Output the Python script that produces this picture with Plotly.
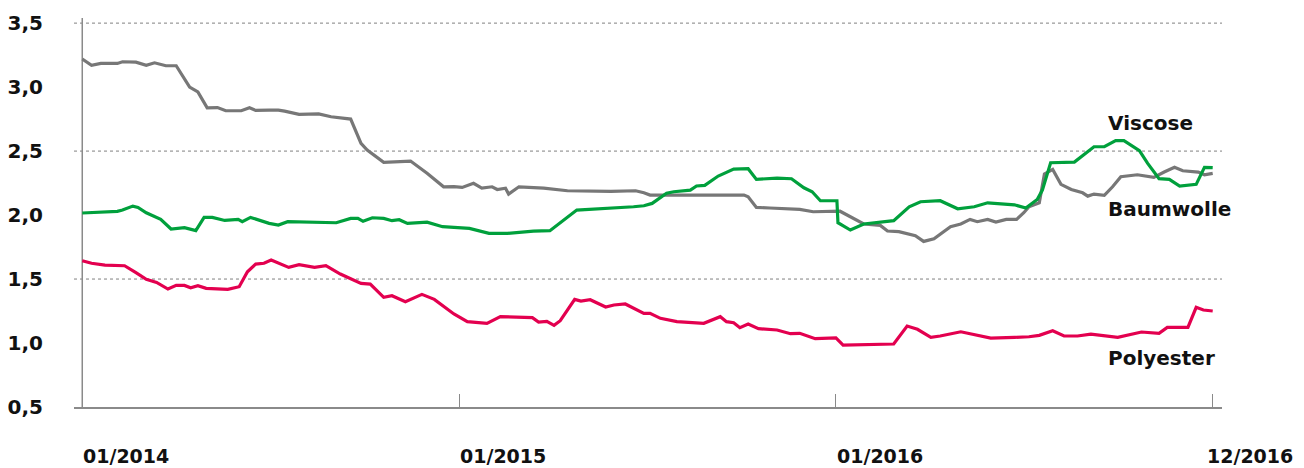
import plotly.graph_objects as go

# ---------------- data ----------------
baum_dates = ["2014-01-01","2014-01-10","2014-01-19","2014-02-04","2014-02-09","2014-02-22","2014-03-04",
              "2014-03-12","2014-03-23","2014-04-02","2014-04-15","2014-04-23","2014-05-02","2014-05-12",
              "2014-05-20","2014-06-04","2014-06-12","2014-06-18","2014-07-01","2014-07-10","2014-07-16",
              "2014-07-30","2014-08-18","2014-08-30","2014-09-18","2014-09-28","2014-10-04","2014-10-20",
              "2014-11-15","2014-12-01","2014-12-17","2014-12-27","2015-01-04","2015-01-15","2015-01-23",
              "2015-02-02","2015-02-07","2015-02-15","2015-02-18","2015-02-28","2015-03-24","2015-04-16",
              "2015-05-28","2015-06-21","2015-06-29","2015-07-05","2015-07-18","2015-10-04","2015-10-08",
              "2015-10-16","2015-10-29","2015-11-27","2015-12-10","2016-01-05","2016-01-28","2016-02-13",
              "2016-02-20","2016-03-02","2016-03-18","2016-03-26","2016-04-05","2016-04-21","2016-05-01",
              "2016-05-10","2016-05-17","2016-05-27","2016-06-04","2016-06-14","2016-06-24","2016-07-01",
              "2016-07-06","2016-07-16","2016-07-21","2016-07-29","2016-08-06","2016-08-16","2016-08-27",
              "2016-09-01","2016-09-07","2016-09-17","2016-09-25","2016-10-03","2016-10-19","2016-11-04",
              "2016-11-14","2016-11-24","2016-12-02","2016-12-17","2016-12-23","2016-12-31"]
baum_values = [3.22,3.17,3.185,3.185,3.198,3.195,3.17,
               3.19,3.167,3.167,3.00,2.963,2.838,2.84,
               2.815,2.815,2.838,2.818,2.82,2.82,2.812,
               2.787,2.79,2.768,2.75,2.56,2.508,2.412,
               2.422,2.326,2.221,2.222,2.216,2.248,2.211,
               2.221,2.20,2.21,2.164,2.221,2.211,2.19,
               2.185,2.19,2.174,2.156,2.156,2.156,2.143,
               2.06,2.055,2.044,2.026,2.03,1.93,1.919,
               1.875,1.87,1.838,1.794,1.815,1.909,1.93,
               1.966,1.948,1.966,1.945,1.966,1.966,2.018,
               2.065,2.096,2.32,2.357,2.24,2.20,2.174,
               2.148,2.164,2.154,2.221,2.30,2.315,2.294,
               2.336,2.373,2.346,2.336,2.315,2.326]

visc_dates = ["2014-01-01","2014-02-04","2014-02-09","2014-02-19","2014-02-24","2014-03-04","2014-03-18",
              "2014-03-28","2014-04-10","2014-04-21","2014-04-29","2014-05-07","2014-05-19","2014-06-01",
              "2014-06-05","2014-06-13","2014-07-01","2014-07-10","2014-07-19","2014-09-04","2014-09-18",
              "2014-09-25","2014-09-30","2014-10-09","2014-10-20","2014-10-28","2014-11-04","2014-11-12",
              "2014-12-01","2014-12-16","2014-12-27","2015-01-11","2015-01-30","2015-02-17","2015-03-14",
              "2015-03-30","2015-04-25","2015-05-28","2015-06-19","2015-06-29","2015-07-07","2015-07-21",
              "2015-07-28","2015-08-13","2015-08-19","2015-08-27","2015-09-09","2015-09-24","2015-10-08",
              "2015-10-16","2015-11-05","2015-11-19","2015-12-01","2015-12-09","2015-12-17","2016-01-02",
              "2016-01-03","2016-01-15","2016-01-28","2016-02-26","2016-03-12","2016-03-23","2016-04-11",
              "2016-04-28","2016-05-14","2016-05-27","2016-06-22","2016-07-03","2016-07-14","2016-07-19",
              "2016-07-27","2016-08-19","2016-09-07","2016-09-17","2016-09-28","2016-10-06","2016-10-21",
              "2016-10-29","2016-11-09","2016-11-19","2016-11-29","2016-12-15","2016-12-23","2016-12-31"]
visc_values = [2.016,2.029,2.039,2.07,2.06,2.018,1.966,
               1.891,1.901,1.878,1.982,1.982,1.958,1.966,
               1.948,1.982,1.935,1.922,1.948,1.94,1.974,
               1.974,1.951,1.979,1.974,1.956,1.964,1.935,
               1.945,1.909,1.904,1.896,1.857,1.857,1.875,
               1.878,2.039,2.052,2.065,2.073,2.091,2.17,
               2.182,2.195,2.227,2.232,2.305,2.359,2.362,
               2.279,2.289,2.284,2.213,2.182,2.112,2.112,
               1.94,1.883,1.93,1.956,2.065,2.104,2.112,
               2.049,2.065,2.096,2.08,2.055,2.122,2.195,
               2.409,2.414,2.534,2.534,2.581,2.581,2.503,
               2.404,2.284,2.279,2.227,2.24,2.373,2.37]

poly_dates = ["2014-01-01","2014-01-10","2014-01-23","2014-02-11","2014-02-22","2014-03-04","2014-03-14",
              "2014-03-25","2014-04-02","2014-04-10","2014-04-16","2014-04-23","2014-05-01","2014-05-22",
              "2014-06-02","2014-06-10","2014-06-18","2014-06-26","2014-07-03","2014-07-20","2014-07-30",
              "2014-08-14","2014-08-25","2014-09-08","2014-09-28","2014-10-07","2014-10-20","2014-10-28",
              "2014-11-10","2014-11-26","2014-12-08","2014-12-19","2014-12-27","2015-01-09","2015-01-28",
              "2015-02-10","2015-03-13","2015-03-19","2015-03-27","2015-04-03","2015-04-09","2015-04-23",
              "2015-04-29","2015-05-08","2015-05-23","2015-05-31","2015-06-11","2015-06-29","2015-07-05",
              "2015-07-15","2015-07-31","2015-08-26","2015-09-11","2015-09-17","2015-09-24","2015-09-30",
              "2015-10-08","2015-10-18","2015-11-05","2015-11-18","2015-11-27","2015-12-12","2015-12-30",
              "2016-01-01","2016-01-08","2016-02-26","2016-03-10","2016-03-20","2016-04-02","2016-04-11",
              "2016-05-01","2016-05-14","2016-05-30","2016-06-22","2016-07-06","2016-07-16","2016-07-29",
              "2016-08-09","2016-08-22","2016-09-04","2016-09-30","2016-10-23","2016-11-09","2016-11-17",
              "2016-12-07","2016-12-15","2016-12-22","2016-12-31"]
poly_values = [1.643,1.623,1.609,1.604,1.55,1.498,1.474,
               1.422,1.451,1.45,1.432,1.448,1.427,1.419,
               1.44,1.557,1.617,1.623,1.648,1.591,1.612,
               1.591,1.604,1.539,1.466,1.461,1.357,1.37,
               1.323,1.38,1.341,1.271,1.227,1.167,1.154,
               1.206,1.198,1.164,1.169,1.138,1.174,1.341,
               1.328,1.338,1.281,1.297,1.305,1.232,1.232,
               1.193,1.167,1.154,1.206,1.167,1.159,1.12,
               1.148,1.112,1.102,1.073,1.076,1.034,1.044,
               1.04,0.984,0.992,1.133,1.107,1.044,1.055,
               1.088,1.068,1.039,1.044,1.049,1.06,1.096,
               1.055,1.055,1.07,1.044,1.086,1.076,1.122,
               1.122,1.279,1.258,1.25]

series_names = ["Baumwolle", "Viscose", "Polyester"]
series_label_y = [2.047, 2.719, 0.883]
label_x = "2016-09-19"

x_tick_vals = ["2014-01-01", "2015-01-01", "2016-01-01", "2016-12-31"]
x_tick_text = ["01/2014", "01/2015", "01/2016", "12/2016"]
y_tick_vals = [0.5, 1.0, 1.5, 2.0, 2.5, 3.0, 3.5]
y_tick_text = ["0,5", "1,0", "1,5", "2,0", "2,5", "3,0", "3,5"]
grid_vals = [1.5, 2.5, 3.5]

# ---------------- styles ----------------
GREY = "#777777"
GREEN = "#00a03c"
RED = "#e3004f"
AXIS = "#8a8a8a"
FONT = "DejaVu Sans"
FS = 20
FS_X = 19
X_LABEL_SHIFT = [0, 0, 0, -7]

# the page body adds an 8px offset, so the figure is sized/margined to compensate
fig = go.Figure()
for name, xs, ys, col in [("Baumwolle", baum_dates, baum_values, GREY),
                          ("Viscose", visc_dates, visc_values, GREEN),
                          ("Polyester", poly_dates, poly_values, RED)]:
    fig.add_trace(go.Scatter(x=xs, y=ys, mode="lines", name=name,
                             line=dict(color=col, width=3.2), hoverinfo="x+y+name"))

shapes = []
for g in grid_vals:
    shapes.append(dict(type="line", xref="paper", x0=0, x1=1, yref="y", y0=g, y1=g,
                       line=dict(color="#808080", width=1, dash="dot"), layer="below"))
shapes.append(dict(type="line", xref="x", x0=x_tick_vals[0], x1=x_tick_vals[0],
                   yref="paper", y0=0, y1=1, line=dict(color=AXIS, width=1.5), layer="below"))

annotations = []
for v, t, sh in zip(x_tick_vals, x_tick_text, X_LABEL_SHIFT):
    annotations.append(dict(x=v, xref="x", y=0, yref="paper", yshift=-49, xshift=sh,
                            text="<b>%s</b>" % t, borderpad=0,
                            showarrow=False, xanchor="left", yanchor="middle",
                            font=dict(family=FONT, size=FS_X, color="#111111")))
for n, yv in zip(series_names, series_label_y):
    annotations.append(dict(x=label_x, xref="x", y=yv, yref="y", text="<b>%s</b>" % n,
                            showarrow=False, xanchor="left", yanchor="middle",
                            font=dict(family=FONT, size=FS, color="#111111")))

fig.update_layout(
    width=1296, height=460,
    margin=dict(l=66, r=82, t=10, b=61, autoexpand=False),
    paper_bgcolor="white", plot_bgcolor="white",
    showlegend=False,
    shapes=shapes, annotations=annotations,
    xaxis=dict(type="date", range=["2013-12-24", "2017-01-09"], showgrid=False, zeroline=False,
               showline=True, linecolor=AXIS, linewidth=1.5, automargin=False,
               tickvals=x_tick_vals, ticks="inside", ticklen=13, tickcolor=AXIS, tickwidth=1,
               showticklabels=False),
    yaxis=dict(range=[0.5, 3.54], showgrid=False, zeroline=False, showline=False, automargin=False,
               tickvals=y_tick_vals, ticktext=["<b>%s</b>" % t for t in y_tick_text],
               ticks="", ticklabelstandoff=30,
               tickfont=dict(family=FONT, size=FS, color="#111111")),
)

fig.write_html("out.html")
